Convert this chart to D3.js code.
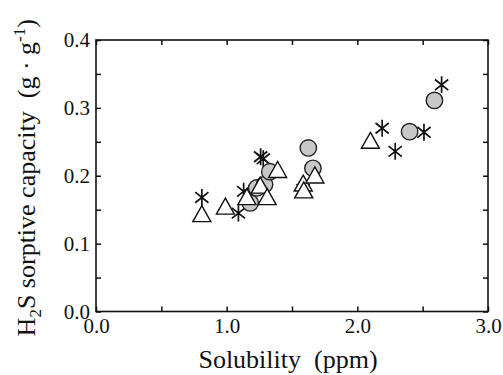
<!DOCTYPE html>
<html>
<head>
<meta charset="utf-8">
<script src="https://cdn.jsdelivr.net/npm/d3@7"></script>
<style>
  body { margin: 0; background: #fff; }
  svg text { font-family: "Liberation Serif", "DejaVu Serif", serif !important; fill: #111; }
</style>
</head>
<body>
<div id="chart"></div>
<script>
// solubility (ppm) / H2S sorptive capacity (g/g)
const starX = [0.81, 1.09, 1.13, 1.26, 1.28, 1.585, 2.19, 2.29, 2.51, 2.645];
const starY = [0.168, 0.145, 0.177, 0.228, 0.225, 0.180, 0.270, 0.236, 0.264, 0.334];
const circleX = [1.18, 1.23, 1.29, 1.33, 1.625, 1.66, 2.40, 2.59];
const circleY = [0.160, 0.182, 0.187, 0.206, 0.241, 0.211, 0.265, 0.311];
const triX = [0.81, 0.99, 1.155, 1.257, 1.31, 1.39, 1.586, 1.59, 1.675, 2.10];
const triY = [0.142, 0.153, 0.167, 0.184, 0.167, 0.207, 0.187, 0.177, 0.199, 0.25];
const xTicks = [0, 0.5, 1.0, 1.5, 2.0, 2.5, 3.0];
const xLabels = [0, 1, 2, 3];
const yTicks = [0, 0.05, 0.1, 0.15, 0.2, 0.25, 0.3, 0.35, 0.4];
const yLabels = [0, 0.1, 0.2, 0.3, 0.4];

const margin = { top: 40, right: 15, bottom: 63.5, left: 96 };
const W = 503, H = 375;
const width = W - margin.left - margin.right;
const height = H - margin.top - margin.bottom;

const svg = d3.select('#chart').append('svg')
  .attr('width', W).attr('height', H);
const g = svg.append('g')
  .attr('transform', `translate(${margin.left},${margin.top})`);

const x = d3.scaleLinear().domain([0, 3]).range([0, width]);
const y = d3.scaleLinear().domain([0, 0.4]).range([height, 0]);

const hasLabel = (list) => (d) => list.some(v => Math.abs(v - d) < 1e-9) ? d3.format('.1f')(d) : '';

// axes, ticks pointing inward
g.append('g').attr('transform', `translate(0,${height})`)
  .call(d3.axisBottom(x).tickValues(xTicks).tickSizeInner(-5).tickSizeOuter(0).tickPadding(7)
    .tickFormat(hasLabel(xLabels)));
g.append('g')
  .call(d3.axisTop(x).tickValues(xTicks).tickSizeInner(-5).tickSizeOuter(0).tickFormat(''));
g.append('g')
  .call(d3.axisLeft(y).tickValues(yTicks).tickSizeInner(-5).tickSizeOuter(0).tickPadding(6)
    .tickFormat(hasLabel(yLabels)));
g.append('g').attr('transform', `translate(${width},0)`)
  .call(d3.axisRight(y).tickValues(yTicks).tickSizeInner(-5).tickSizeOuter(0).tickFormat(''));

g.selectAll('.domain').remove();
g.selectAll('.tick line').attr('stroke', '#111').attr('stroke-width', 1.5);
g.selectAll('.tick text')
  .attr('font-size', 21).attr('fill', '#111');

g.append('rect')
  .attr('width', width).attr('height', height)
  .attr('fill', 'none').attr('stroke', '#111').attr('stroke-width', 1.6);

// markers: stars under circles under triangles
const stars = starX.map((v, i) => [v, starY[i]]);
const circles = circleX.map((v, i) => [v, circleY[i]]);
const tris = triX.map((v, i) => [v, triY[i]]);

const a = 8.5;
const starPath = `M0,${-a}L0,${a}` +
  `M${-a * 0.78},${-a * 0.62}L${a * 0.78},${a * 0.62}` +
  `M${-a * 0.78},${a * 0.62}L${a * 0.78},${-a * 0.62}`;

g.append('g').selectAll('path')
  .data(stars).enter().append('path')
  .attr('transform', d => `translate(${x(d[0])},${y(d[1])})`)
  .attr('d', starPath)
  .attr('fill', 'none').attr('stroke', '#111').attr('stroke-width', 1.7);

g.append('g').selectAll('circle')
  .data(circles).enter().append('circle')
  .attr('cx', d => x(d[0])).attr('cy', d => y(d[1]))
  .attr('r', 8.2)
  .attr('fill', '#c8c8c8').attr('stroke', '#222').attr('stroke-width', 1.4);

const triPath = 'M0,-9.5L9,6.5L-9,6.5Z';
g.append('g').selectAll('path')
  .data(tris).enter().append('path')
  .attr('transform', d => `translate(${x(d[0])},${y(d[1])})`)
  .attr('d', triPath)
  .attr('fill', '#fff').attr('stroke', '#111').attr('stroke-width', 1.4);

// axis titles
svg.append('text')
  .attr('x', 288).attr('y', 368)
  .attr('text-anchor', 'middle').attr('font-size', 26)
  .text('Solubility\u00a0\u00a0(ppm)');

const yt = svg.append('text')
  .attr('transform', `translate(35,${margin.top + height / 2 + 2}) rotate(-90)`)
  .attr('text-anchor', 'middle').attr('font-size', 26);
yt.append('tspan').text('H');
yt.append('tspan').attr('dy', 6).attr('font-size', 17).text('2');
yt.append('tspan').attr('dy', -6).text('S sorptive capacity\u00a0\u00a0(g\u00a0\u00b7\u00a0g');
yt.append('tspan').attr('dy', -10).attr('font-size', 17).text('-1');
yt.append('tspan').attr('dy', 10).text(')');
</script>
</body>
</html>
